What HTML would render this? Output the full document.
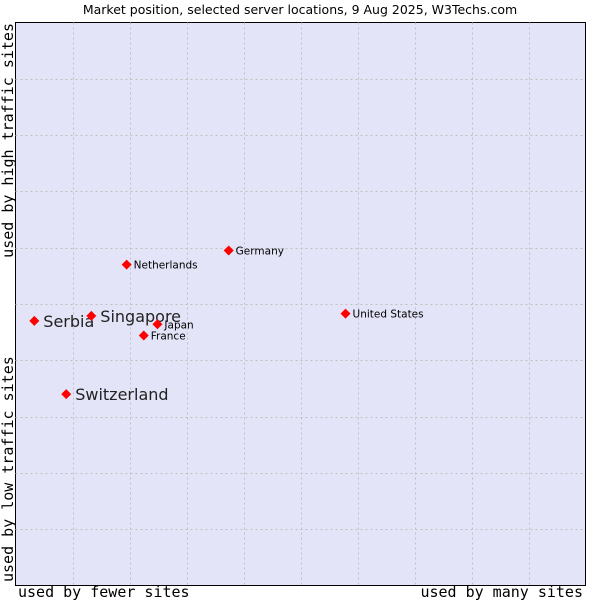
<!DOCTYPE html>
<html><head><meta charset="utf-8"><style>
body{margin:0;background:#fff;width:600px;height:600px;overflow:hidden}
svg text{font-family:"DejaVu Sans","Liberation Sans",sans-serif}
</style></head><body>
<svg id="chart" width="600" height="600" xmlns="http://www.w3.org/2000/svg">
<text x="300" y="14" text-anchor="middle" font-size="12.5" fill="#000">Market position, selected server locations, 9 Aug 2025, W3Techs.com</text>
<rect x="15.5" y="22.5" width="570" height="563" fill="#e3e4f7" stroke="#000" stroke-width="1"/>
<g id="grid"></g>
<text x="18" y="597" font-size="15" style="font-family:'DejaVu Sans Mono',monospace">used by fewer sites</text>
<text x="583" y="597" text-anchor="end" font-size="15" style="font-family:'DejaVu Sans Mono',monospace">used by many sites</text>
<text transform="translate(13,23) rotate(-90)" text-anchor="end" font-size="15" style="font-family:'DejaVu Sans Mono',monospace">used by high traffic sites</text>
<text transform="translate(13,582) rotate(-90)" font-size="15" style="font-family:'DejaVu Sans Mono',monospace">used by low traffic sites</text>
<g id="points"></g>
</svg>
<script>
const names = ["Serbia","Singapore","Netherlands","Germany","Japan","France","United States","Switzerland"];
const xValues = [0.33,1.33,1.95,3.74,2.49,2.25,5.79,0.89];
const yValues = [4.70,4.79,5.70,5.95,4.64,4.44,4.83,3.40];
const bigLabel = [true,true,false,false,false,false,false,true];
const NS="http://www.w3.org/2000/svg";
const X0=15.5,X1=585.5,Y0=585.5,Y1=22.5;
function sx(v){return X0+(X1-X0)*v/10;}
function sy(v){return Y0-(Y0-Y1)*v/10;}
const grid=document.getElementById('grid');
for(let i=1;i<10;i++){
  let l=document.createElementNS(NS,'line');
  
  
  l.setAttribute('x1',Math.round(sx(i))+0.5);l.setAttribute('x2',Math.round(sx(i))+0.5);
  l.setAttribute('y1',Y1);l.setAttribute('y2',Y0);
  l.setAttribute('stroke','#c0c0c0');l.setAttribute('stroke-dasharray','2,3');
  grid.appendChild(l);
  let h=document.createElementNS(NS,'line');
  
  
  h.setAttribute('y1',Math.round(sy(i))+0.5);h.setAttribute('y2',Math.round(sy(i))+0.5);
  h.setAttribute('x1',X0);h.setAttribute('x2',X1);
  h.setAttribute('stroke','#c0c0c0');h.setAttribute('stroke-dasharray','2,3');
  grid.appendChild(h);
}
const pts=document.getElementById('points');
names.forEach((n,i)=>{
  const x=sx(xValues[i]),y=sy(yValues[i]);
  let p=document.createElementNS(NS,'polygon');
  
  
  p.setAttribute('points',`${x},${y-5} ${x+5},${y} ${x},${y+5} ${x-5},${y}`);
  p.setAttribute('fill','#ff0000');
  pts.appendChild(p);
  let t=document.createElementNS(NS,'text');
  
  
  const big=bigLabel[i];
  t.setAttribute('x',x+(big?9:7));
  t.setAttribute('y',y+(big?6:4));
  t.setAttribute('font-size',big?16:10.5);
  t.setAttribute('fill',big?'#222':'#000');
  t.textContent=n;
  pts.appendChild(t);
});
</script>
</body></html>
